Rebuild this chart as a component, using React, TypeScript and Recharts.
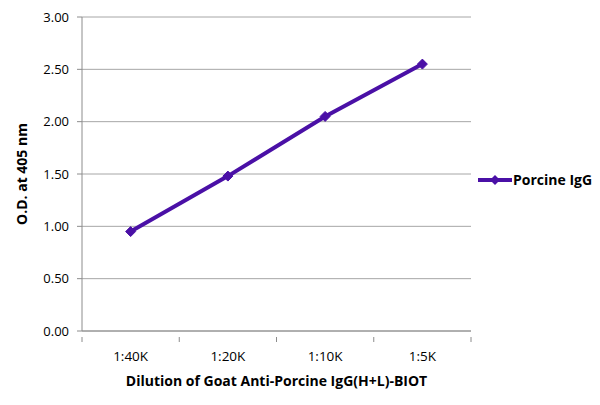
import { CartesianGrid, Legend, Line, LineChart, XAxis, YAxis } from "recharts";

const dilutions = ["1:40K", "1:20K", "1:10K", "1:5K"];
const porcineIgG = [0.95, 1.48, 2.05, 2.55];
const yTicks = [0, 0.5, 1, 1.5, 2, 2.5, 3];

const PURPLE = "#4a10a6";
const GRID = "#a6a6a6";
const AXIS = "#8c8c8c";
const FONT = "'Open Sans', sans-serif";
const PLOT_W = 389;
const HALF_BAND = PLOT_W / dilutions.length / 2;

const data = dilutions.map((d, i) => ({ dilution: d, porcine: porcineIgG[i] }));

function Diamond(props: any) {
  const { cx, cy } = props;
  if (cx == null || cy == null) return null;
  const r = 5;
  return (
    <path
      d={`M${cx},${cy - r} L${cx + r},${cy} L${cx},${cy + r} L${cx - r},${cy} Z`}
      fill={PURPLE}
      stroke={PURPLE}
    />
  );
}

// category label in the middle of its band, tick marks on the band edges (Excel style)
function CategoryTick(props: any) {
  const { x, y, payload, index } = props;
  const top = y - 10;
  return (
    <g>
      <line x1={x - HALF_BAND} y1={top} x2={x - HALF_BAND} y2={top + 5} stroke={AXIS} />
      {index === dilutions.length - 1 && (
        <line x1={x + HALF_BAND} y1={top} x2={x + HALF_BAND} y2={top + 5} stroke={AXIS} />
      )}
      <text x={x} y={top + 24} textAnchor="middle" fontSize={13.5} fontFamily={FONT} fill="#000">
        {payload.value}
      </text>
    </g>
  );
}

function LegendContent() {
  return (
    <div style={{ display: "flex", alignItems: "center", fontFamily: FONT }}>
      <svg width={34} height={12}>
        <line x1={0} y1={6} x2={34} y2={6} stroke={PURPLE} strokeWidth={4} />
        <path d="M17,1 L22,6 L17,11 L12,6 Z" fill={PURPLE} />
      </svg>
      <span style={{ fontSize: 14, fontWeight: 700, color: "#000", marginLeft: 1 }}>
        Porcine IgG
      </span>
    </div>
  );
}

export default function App() {
  return (
    <div style={{ position: "absolute", left: 0, top: 0, width: 600, height: 405, background: "#fff" }}>
      <LineChart width={600} height={405} data={data} margin={{ top: 17, right: 129, bottom: 0, left: 0 }}>
        <CartesianGrid horizontal vertical={false} stroke={GRID} />
        <XAxis
          dataKey="dilution"
          height={74}
          stroke={AXIS}
          padding={{ left: HALF_BAND, right: HALF_BAND }}
          tickLine={false}
          tick={<CategoryTick />}
          tickMargin={10}
          label={{
            value: "Dilution of Goat Anti-Porcine IgG(H+L)-BIOT",
            position: "insideBottom",
            offset: 19,
            style: { fontSize: 14, fontWeight: 700, fill: "#000", fontFamily: FONT },
          }}
        />
        <YAxis
          width={82}
          domain={[0, 3]}
          ticks={yTicks}
          tickFormatter={(v) => Number(v).toFixed(2)}
          stroke={AXIS}
          tickSize={5}
          tickMargin={8}
          tick={{ fontSize: 13, fill: "#000", fontFamily: FONT }}
          label={{
            value: "O.D. at 405 nm",
            angle: -90,
            position: "insideLeft",
            offset: 22,
            style: { textAnchor: "middle", fontSize: 14, fontWeight: 700, fill: "#000", fontFamily: FONT },
          }}
        />
        <Legend
          layout="horizontal"
          verticalAlign="middle"
          align="center"
          content={<LegendContent />}
          wrapperStyle={{ left: 478, top: 170, width: 120 }}
        />
        <Line
          dataKey="porcine"
          name="Porcine IgG"
          stroke={PURPLE}
          strokeWidth={4}
          dot={<Diamond />}
          activeDot={false}
          isAnimationActive={false}
        />
      </LineChart>
    </div>
  );
}
